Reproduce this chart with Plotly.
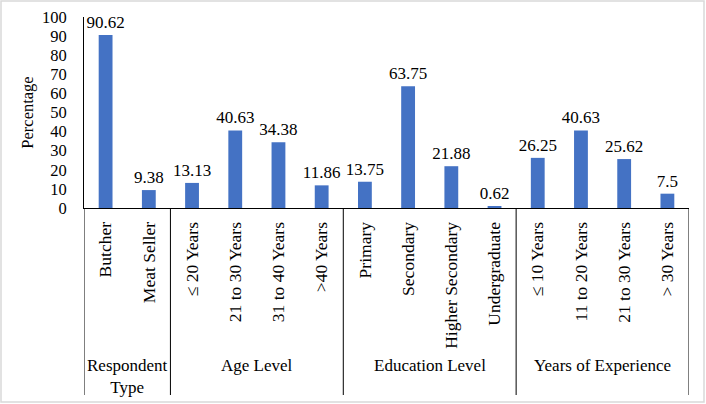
import plotly.graph_objects as go

NB = "\u00a0"
groups = ["Respondent<br>Type"] * 2 + ["Age Level"] * 4 + ["Education Level"] * 4 + ["Years of Experience"] * 4
categories = ["Butcher", "Meat Seller",
              "≤ 20 Years", "21 to 30 Years", "31 to 40 Years", ">40 Years",
              "Primary", "Secondary", "Higher Secondary", "Undergraduate",
              "≤ 10 Years", "11 to 20 Years", "21 to 30" + NB + "Years", "> 30 Years"]
values = [90.62, 9.38, 13.13, 40.63, 34.38, 11.86, 13.75, 63.75, 21.88, 0.62, 26.25, 40.63, 25.62, 7.5]

FONT = "Liberation Serif"
W, H = 706, 404
L, R, T, B = 84, 17, 17, 196
pw, ph = W - L - R, H - T - B

fig = go.Figure(go.Bar(
    x=categories, y=values,
    marker=dict(color="#4472C4", line=dict(width=0)),
    texttemplate="%{y}", textposition="outside", cliponaxis=False,
    constraintext="none",
    textfont=dict(family=FONT, size=17, color="black"),
    width=0.32,
))

# group spans (derived from the groups list)
spans = []
start = 0
for i in range(1, len(groups) + 1):
    if i == len(groups) or groups[i] != groups[start]:
        spans.append((groups[start], start, i - 1))
        start = i

div_bottom = -(395 - (T + ph)) / ph
label_top = -(354 - (T + ph)) / ph
shapes = []
boundaries = [s[1] - 0.5 for s in spans] + [spans[-1][2] + 0.5]
for b in boundaries:
    shapes.append(dict(type="line", xref="x", yref="paper", x0=b, x1=b, y0=0, y1=div_bottom,
                       line=dict(color="black", width=1)))
shapes.append(dict(
    type="rect", xref="paper", yref="paper",
    x0=-(L - 1) / pw, x1=1 + (R - 2) / pw,
    y0=-(B - 2) / ph, y1=1 + (T - 1) / ph,
    line=dict(color="#D9D9D9", width=1.5), fillcolor="rgba(0,0,0,0)", layer="below",
))
annotations = [dict(text=name, xref="x", yref="paper", x=(a + b) / 2, y=label_top,
                    xanchor="center", yanchor="top", showarrow=False,
                    font=dict(family=FONT, size=17, color="black"))
               for name, a, b in spans]

fig.update_layout(
    width=W, height=H,
    margin=dict(l=L, r=R, t=T, b=B, autoexpand=False),
    paper_bgcolor="white", plot_bgcolor="white",
    font=dict(family=FONT, size=17, color="black"),
    showlegend=False,
    xaxis=dict(
        type="category", tickangle=-90, ticks="", automargin=False,
        showline=True, linecolor="black", linewidth=1,
        tickfont=dict(family=FONT, size=17.5, color="black"),
        ticklabelstandoff=6,
        range=[-0.5, len(categories) - 0.5],
    ),
    yaxis=dict(
        range=[0, 100], dtick=10, showgrid=False, zeroline=False, automargin=False,
        showline=True, linecolor="black", linewidth=1, ticks="",
        tickfont=dict(family=FONT, size=16.5, color="black"),
        ticklabelstandoff=13,
        title=dict(text="Percentage", font=dict(family=FONT, size=16.5, color="black"), standoff=4),
    ),
    shapes=shapes,
    annotations=annotations,
)

fig.write_html("out.html", config={"displayModeBar": False},
               post_script="document.body.style.margin='0';")
